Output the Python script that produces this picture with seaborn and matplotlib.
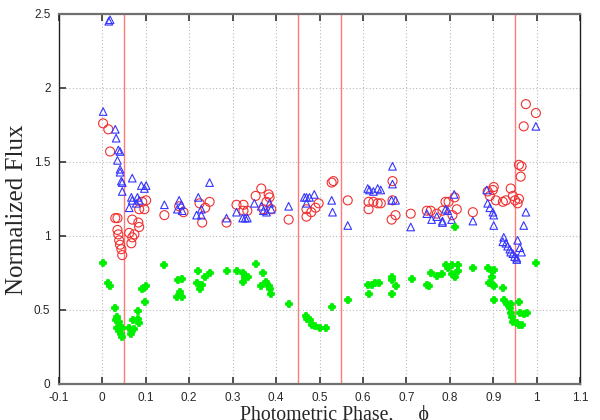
import pandas as pd
import seaborn as sns
import matplotlib.pyplot as plt

sns.set_theme(style="white")
plt.rcParams['font.family'] = ['Liberation Sans', 'DejaVu Sans']

# phase / normalized flux
phase_red = [0.002, 0.014, 0.018, 0.030, 0.035, 0.035, 0.037, 0.039, 0.041, 0.044, 0.046, 0.069, 0.083, 0.085,
             0.062, 0.074, 0.069, 0.067, 0.085, 0.097, 0.101, 0.092, 0.143, 0.177, 0.187, 0.224, 0.237, 0.247,
             0.230, 0.286, 0.309, 0.325, 0.325, 0.334, 0.353, 0.366, 0.383, 0.385, 0.378, 0.371, 0.389, 0.429,
             0.470, 0.470, 0.481, 0.491, 0.498, 0.528, 0.532, 0.565, 0.613, 0.624, 0.634, 0.641, 0.613, 0.668,
             0.668, 0.675, 0.666, 0.710, 0.747, 0.756, 0.770, 0.783, 0.790, 0.797, 0.811, 0.806, 0.816, 0.853,
             0.887, 0.892, 0.899, 0.901, 0.906, 0.922, 0.929, 0.940, 0.945, 0.950, 0.956, 0.959, 0.963, 0.965,
             0.959, 0.970, 0.975, 0.998]
flux_red = [1.76, 1.72, 1.57, 1.12, 1.12, 1.04, 1.01, 0.97, 0.94, 0.91, 0.87, 1.11, 1.09, 1.06,
            1.02, 1.01, 0.99, 0.95, 1.18, 1.18, 1.24, 1.23, 1.14, 1.20, 1.16, 1.22, 1.19, 1.23,
            1.09, 1.09, 1.21, 1.21, 1.17, 1.17, 1.27, 1.32, 1.28, 1.26, 1.23, 1.18, 1.18, 1.11,
            1.18, 1.13, 1.16, 1.19, 1.22, 1.36, 1.37, 1.24, 1.23, 1.23, 1.22, 1.22, 1.18, 1.37,
            1.24, 1.14, 1.11, 1.15, 1.17, 1.17, 1.15, 1.17, 1.23, 1.23, 1.26, 1.14, 1.18, 1.16,
            1.30, 1.27, 1.31, 1.33, 1.24, 1.23, 1.24, 1.32, 1.27, 1.24, 1.22, 1.25, 1.40, 1.47,
            1.48, 1.74, 1.89, 1.83]

phase_blue = [0.015, 0.018, 0.002, 0.030, 0.032, 0.037, 0.041, 0.035, 0.041, 0.041, 0.044, 0.046, 0.046, 0.069,
              0.090, 0.101, 0.097, 0.067, 0.069, 0.081, 0.085, 0.078, 0.062, 0.143, 0.177, 0.182, 0.173, 0.184,
              0.221, 0.228, 0.217, 0.228, 0.247, 0.286, 0.309, 0.323, 0.329, 0.334, 0.350, 0.366, 0.371, 0.378,
              0.385, 0.389, 0.429, 0.470, 0.477, 0.488, 0.465, 0.470, 0.528, 0.530, 0.565, 0.611, 0.615, 0.624,
              0.634, 0.641, 0.668, 0.668, 0.666, 0.675, 0.710, 0.747, 0.758, 0.770, 0.783, 0.790, 0.795, 0.804,
              0.810, 0.783, 0.853, 0.885, 0.887, 0.892, 0.899, 0.901, 0.901, 0.975, 0.970, 0.924, 0.922, 0.929,
              0.933, 0.938, 0.940, 0.945, 0.949, 0.954, 0.956, 0.961, 0.965, 0.954, 0.998]
flux_blue = [2.45, 2.46, 1.84, 1.72, 1.66, 1.58, 1.57, 1.51, 1.45, 1.43, 1.37, 1.36, 1.30, 1.39,
             1.34, 1.34, 1.32, 1.26, 1.24, 1.26, 1.24, 1.22, 1.19, 1.21, 1.24, 1.21, 1.18, 1.17,
             1.26, 1.18, 1.14, 1.14, 1.36, 1.12, 1.16, 1.12, 1.12, 1.12, 1.22, 1.20, 1.17, 1.16,
             1.22, 1.18, 1.20, 1.26, 1.26, 1.28, 1.26, 1.22, 1.24, 1.16, 1.07, 1.32, 1.31, 1.30,
             1.32, 1.31, 1.47, 1.35, 1.24, 1.24, 1.06, 1.15, 1.11, 1.13, 1.10, 1.18, 1.17, 1.11,
             1.28, 1.09, 1.10, 1.31, 1.22, 1.19, 1.16, 1.14, 1.07, 1.16, 1.07, 0.99, 0.96, 0.95,
             0.93, 0.91, 0.89, 0.88, 0.86, 0.84, 0.97, 0.92, 0.89, 0.85, 1.74]

phase_green = [0.002, 0.014, 0.018, 0.030, 0.035, 0.032, 0.039, 0.041, 0.035, 0.044, 0.046, 0.039, 0.046, 0.062,
               0.067, 0.074, 0.071, 0.083, 0.085, 0.083, 0.092, 0.097, 0.101, 0.099, 0.143, 0.175, 0.184, 0.171,
               0.180, 0.184, 0.221, 0.237, 0.247, 0.217, 0.224, 0.230, 0.226, 0.286, 0.309, 0.323, 0.329, 0.336,
               0.325, 0.353, 0.369, 0.378, 0.366, 0.383, 0.385, 0.389, 0.429, 0.468, 0.472, 0.478, 0.482, 0.490,
               0.500, 0.515, 0.528, 0.565, 0.611, 0.620, 0.627, 0.638, 0.613, 0.668, 0.666, 0.675, 0.666, 0.712,
               0.747, 0.751, 0.756, 0.770, 0.783, 0.790, 0.795, 0.806, 0.818, 0.818, 0.804, 0.813, 0.811, 0.853,
               0.887, 0.896, 0.901, 0.896, 0.889, 0.899, 0.901, 0.922, 0.901, 0.924, 0.931, 0.940, 0.958, 0.938,
               0.940, 0.961, 0.970, 0.977, 0.942, 0.945, 0.954, 0.958, 0.965, 0.998]
flux_green = [0.82, 0.68, 0.66, 0.51, 0.45, 0.43, 0.42, 0.39, 0.38, 0.34, 0.32, 0.36, 0.38, 0.38,
              0.34, 0.37, 0.43, 0.44, 0.41, 0.49, 0.64, 0.65, 0.66, 0.55, 0.80, 0.70, 0.71, 0.59,
              0.62, 0.59, 0.76, 0.72, 0.75, 0.68, 0.67, 0.67, 0.64, 0.76, 0.76, 0.75, 0.72, 0.72,
              0.69, 0.81, 0.75, 0.69, 0.66, 0.66, 0.64, 0.61, 0.54, 0.46, 0.44, 0.43, 0.40, 0.39,
              0.38, 0.38, 0.52, 0.57, 0.67, 0.67, 0.68, 0.68, 0.61, 0.72, 0.70, 0.66, 0.61, 0.71,
              0.67, 0.66, 0.75, 0.73, 0.74, 0.80, 0.78, 0.80, 0.80, 0.76, 0.74, 0.72, 1.06, 0.78,
              0.78, 0.76, 0.77, 0.72, 0.68, 0.67, 0.66, 0.65, 0.57, 0.57, 0.54, 0.54, 0.55, 0.51,
              0.48, 0.48, 0.47, 0.48, 0.45, 0.42, 0.41, 0.40, 0.40, 0.82]

phase_marks = [0.05, 0.45, 0.55, 0.95]

red = pd.DataFrame({'phase': phase_red, 'flux': flux_red})
blue = pd.DataFrame({'phase': phase_blue, 'flux': flux_blue})
green = pd.DataFrame({'phase': phase_green, 'flux': flux_green})

fig = plt.figure(figsize=(6, 4.2), dpi=100)
ax = fig.add_axes([0.098, 0.086, 0.869, 0.881])

ax.grid(True, color='#b8b8b8', linestyle=(0, (1, 2)), linewidth=0.8)
for p in phase_marks:
    ax.axvline(p, color='#ff7a7a', linewidth=1, zorder=1)

sns.scatterplot(data=red, x='phase', y='flux', marker='o', s=42, facecolors='none',
                edgecolor='#f03030', linewidth=0.8, ax=ax, zorder=3)
sns.scatterplot(data=blue, x='phase', y='flux', marker='^', s=30, facecolors='none',
                edgecolor='#3535ff', linewidth=0.8, ax=ax, zorder=3)
sns.scatterplot(data=green, x='phase', y='flux', marker='P', s=22, color='#00ee00',
                edgecolor='#00ee00', linewidth=1.3, ax=ax, zorder=3)

ax.set_xlim(-0.1, 1.1)
ax.set_ylim(0, 2.5)
ax.set_xticks([-0.1 + 0.1 * i for i in range(13)])
ax.set_xticklabels(['-0.1', '0', '0.1', '0.2', '0.3', '0.4', '0.5', '0.6', '0.7', '0.8', '0.9', '1', '1.1'])
ax.set_yticks([0, 0.5, 1, 1.5, 2, 2.5])
ax.set_yticklabels(['0', '0.5', '1', '1.5', '2', '2.5'])
ax.tick_params(axis='both', direction='in', length=5, width=1.2, color='#333333', labelsize=8.5, pad=6)
ax.tick_params(axis='x', top=True, bottom=True)
ax.tick_params(axis='y', left=True, right=False)

for side in ['top', 'bottom']:
    ax.spines[side].set_color('#707070')
    ax.spines[side].set_linewidth(1.6)
for side in ['left', 'right']:
    ax.spines[side].set_color('#222222')
    ax.spines[side].set_linewidth(1.0)

serif = ['Liberation Serif', 'DejaVu Serif']
ax.set_xlabel('Photometric Phase,     \u03d5', family=serif, fontsize=14.3)
ax.xaxis.set_label_coords(0.528, -0.058, transform=ax.transAxes)
ax.xaxis.label.set_va('top')
ax.set_ylabel('Normalized Flux', family=serif, fontsize=18)
ax.yaxis.set_label_coords(-0.06, 0.47, transform=ax.transAxes)

fig.savefig('out.png', dpi=100)
